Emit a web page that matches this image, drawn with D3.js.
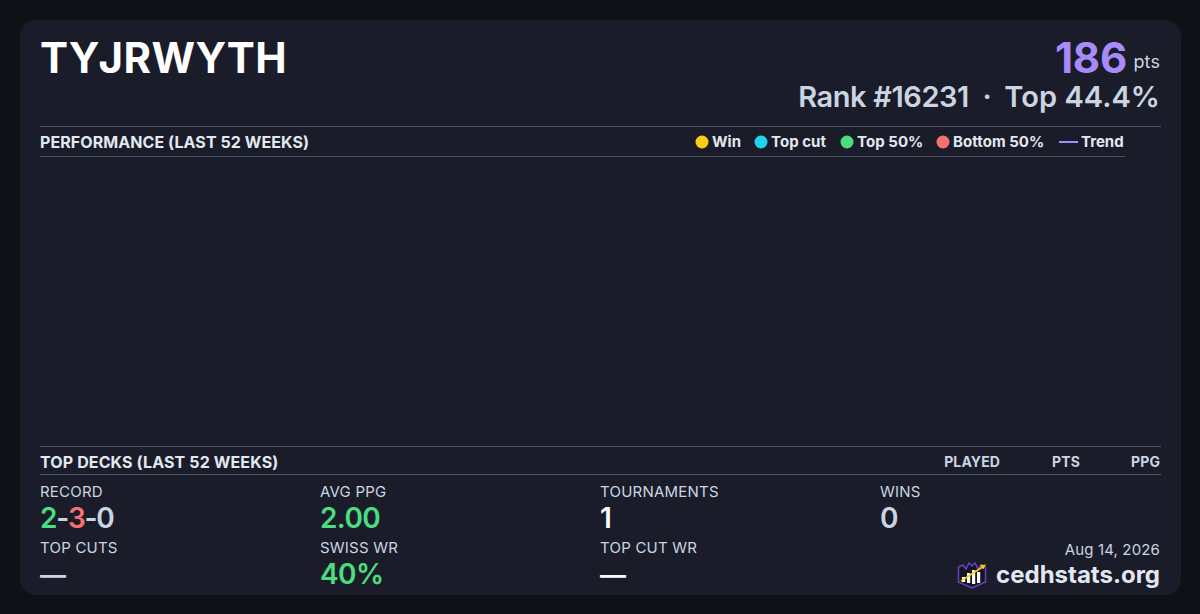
<!DOCTYPE html>
<html><head><meta charset="utf-8">
<script src="https://cdn.jsdelivr.net/npm/d3@7"></script>
<style>html,body{margin:0;padding:0;background:#0f1116;overflow:hidden}svg{display:block}text{font-family:Inter,sans-serif}</style>
</head><body><svg id="c" width="1200" height="614"></svg>
<script>
const playerName = "TYJRWYTH";
const points = "186";
const rankLine = ["Rank #16231", "·", "Top 44.4%"];
const legendLabels = ["Win", "Top cut", "Top 50%", "Bottom 50%", "Trend"];
const legendColors = ["#facc15", "#22d3ee", "#4ade80", "#f87171", "#a78bfa"];
const legendX = [702, 761, 847, 943, 1059];
const deckCols = ["PLAYED", "PTS", "PPG"];
const deckColX = [1000, 1080, 1160];
const statLabels = ["RECORD", "AVG PPG", "TOURNAMENTS", "WINS", "TOP CUTS", "SWISS WR", "TOP CUT WR"];
const statValues = [null, "2.00", "1", "0", "—", "40%", "—"];
const statColors = [null, "#4ade80", "#f8fafc", "#cbd5e1", "#cbd5e1", "#4ade80", "#f8fafc"];
const statX = [40, 320, 600, 880, 40, 320, 600];
const statRow = [0, 0, 0, 0, 1, 1, 1];

const svg = d3.select("#c");
const T = (x, y, s, size, weight, fill, anchor = "start", ls = 0) => svg.append("text")
  .attr("x", x).attr("y", y).text(s).attr("font-size", size).attr("font-weight", weight)
  .attr("fill", fill).attr("text-anchor", anchor).attr("letter-spacing", ls);
const L = (x1, x2, y) => svg.append("rect").attr("x", x1).attr("y", y).attr("width", x2 - x1).attr("height", 1).attr("fill", "#475569");

svg.append("rect").attr("width", 1200).attr("height", 614).attr("fill", "#0f1116");
svg.append("rect").attr("x", 20).attr("y", 20).attr("width", 1161).attr("height", 575).attr("rx", 16).attr("fill", "#1a1d29");

T(40, 73, playerName, 42, 700, "#ffffff", "start", 0.4);
T(1127, 73, points, 42, 700, "#a78bfa", "end", -0.2);
T(1160, 68, "pts", 18, 400, "#cbd5e1", "end", 0.1);
T(1160, 107, rankLine[2], 29, 600, "#cbd5e1", "end", 0.05);
T(987, 107, rankLine[1], 29, 600, "#cbd5e1", "middle");
T(969, 107, rankLine[0], 29, 600, "#cbd5e1", "end", -0.4);

L(40, 1161, 126); L(40, 1125, 156);
T(40, 148, "PERFORMANCE (LAST 52 WEEKS)", 16, 700, "#e2e8f0", "start", 0.07);

legendLabels.forEach((s, i) => {
  const c = legendColors[i], x = legendX[i];
  if (s === "Trend") {
    svg.append("rect").attr("x", x).attr("y", 141).attr("width", 19).attr("height", 2).attr("fill", c);
    T(x + 22, 147, s, 15, 700, "#e2e8f0");
  } else {
    svg.append("circle").attr("cx", x).attr("cy", 142).attr("r", 6.5).attr("fill", c);
    T(x + 10, 147, s, 15, 700, "#e2e8f0", "start", 0.05);
  }
});

L(40, 1161, 446); L(40, 1161, 474);
T(40, 468, "TOP DECKS (LAST 52 WEEKS)", 16, 700, "#e2e8f0", "start", 0.12);
deckCols.forEach((s, i) => T(deckColX[i], 467, s, 14, 700, "#cbd5e1", "end", 0.1));

const rowLabel = [497, 553], rowValue = [528, 584];
statLabels.forEach((s, i) => {
  T(statX[i], rowLabel[statRow[i]], s, 15, 400, "#cbd5e1", "start", 0.22);
  if (statValues[i] !== null) {
    const size = statValues[i] === "—" ? 26 : 28;
    T(statX[i], rowValue[statRow[i]], statValues[i], size, 600, statColors[i], "start", -0.6);
  }
});
const rec = T(40, 528, "", 28, 600, "#cbd5e1", "start", -1.2);
[["2", "#4ade80"], ["-", "#cbd5e1"], ["3", "#f87171"], ["-", "#cbd5e1"], ["0", "#cbd5e1"]]
  .forEach(([s, c]) => rec.append("tspan").text(s).attr("fill", c));

T(1160, 555, "Aug 14, 2026", 15, 400, "#cbd5e1", "end", 0.15);
T(1160, 583, "cedhstats.org", 24, 700, "#e2e8f0", "end");

// logo
const g = svg.append("g");
g.append("path").attr("d", "M958.5 567 L963 565 L966 569 L969 563 L972 566 L975 563 L978 569 L981 565 L985.5 567 L985.5 582 L972 588 L958.5 582 Z")
  .attr("fill", "#14161f").attr("stroke", "#6d3fc4").attr("stroke-width", 1.5);
[[962, 577, 5], [967, 573, 10], [972, 570, 14], [977, 572, 11]].forEach(([x, y, h]) =>
  g.append("rect").attr("x", x).attr("y", y).attr("width", 3.2).attr("height", h).attr("fill", "#fff"));
g.append("path").attr("d", "M961 581 L984 566").attr("stroke", "#facc15").attr("stroke-width", 1.6);
g.append("path").attr("d", "M986 564.5 L980 565 L983 569.5 Z").attr("fill", "#facc15");
</script></body></html>
